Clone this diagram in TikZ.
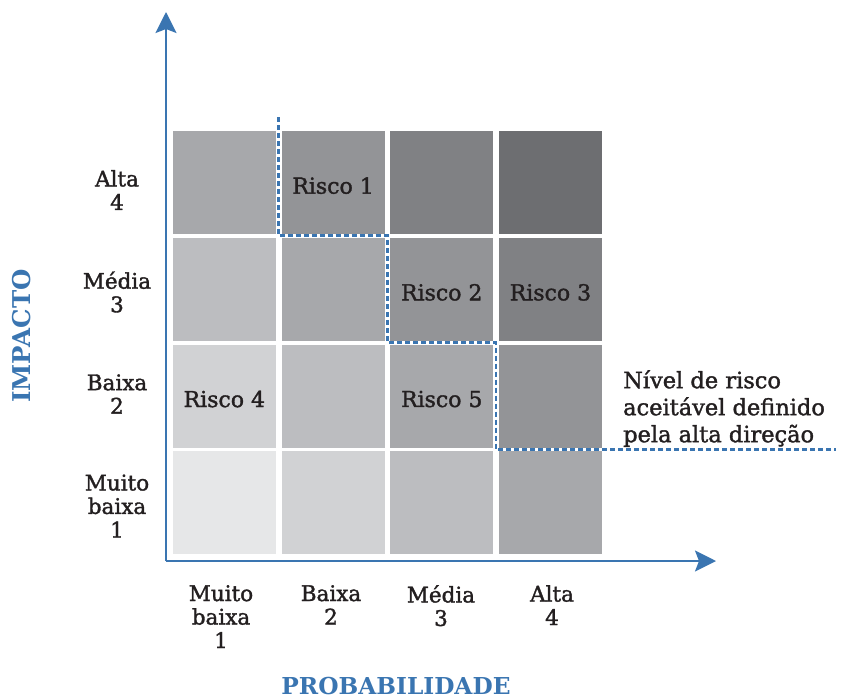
\documentclass[tikz,border=0pt]{standalone}
\usepackage{fontspec}
\setmainfont{DejaVu Serif}
\newfontfamily\lblfont{DejaVu Serif}[FakeBold=1.6]
\usetikzlibrary{arrows.meta}
\definecolor{axisblue}{RGB}{58,117,177}
\definecolor{txt}{HTML}{231F20}
\definecolor{lev1}{HTML}{E6E7E8}
\definecolor{lev2}{HTML}{D1D2D4}
\definecolor{lev3}{HTML}{BCBDC0}
\definecolor{lev4}{HTML}{A7A8AB}
\definecolor{lev5}{HTML}{939497}
\definecolor{lev6}{HTML}{808184}
\definecolor{lev7}{HTML}{6D6E71}
\begin{document}
\begin{tikzpicture}[x=1pt,y=-1pt,
  cell/.style={rectangle, inner sep=0pt, minimum width=103pt, minimum height=103pt},
  tick/.style={align=center, text=txt, inner sep=0pt, font=\lblfont\fontsize{21.5}{23.5}\selectfont},
  risk/.style={text=txt, inner sep=0pt, font=\lblfont\fontsize{22}{24}\selectfont},
  axtitle/.style={text=axisblue, inner sep=0pt, font=\bfseries\fontsize{24.5}{28}\selectfont},
  axisline/.style={draw=axisblue, line width=2.2pt, -{Stealth[length=21pt,width=21pt,inset=4pt]}},
  limit/.style={draw=axisblue, line width=2.8pt, dash pattern=on 5pt off 3pt}]
\useasboundingbox (0,0) rectangle (842,699);
% cells
\foreach \c in {1,...,4} {
  \foreach \r in {1,...,4} {
    \pgfmathtruncatemacro\lv{\c+\r-1}
    \node[cell, fill=lev\lv] (cell-\c-\r) at ({224.35+(\c-1)*108.7},{502.75-(\r-1)*106.7}) {};
  }
}
% axes
\coordinate (origin) at (166,561);
\coordinate (ytip) at (166,12);
\coordinate (xtip) at (716,561);
\draw[axisline] (origin) -- (ytip);
\draw[axisline] (origin) -- (xtip);
% acceptable risk limit
\coordinate (d0) at (278.5,117);
\coordinate (d1) at (278.5,235.8);
\coordinate (d2) at (387.2,235.8);
\coordinate (d3) at (387.2,342.5);
\coordinate (d4) at (496,342.5);
\coordinate (d5) at (496,449.2);
\coordinate (d6) at (836,449.2);
\draw[limit] (d0) -- (d1) -- (d2) -- (d3) -- (d4) -- (d5) -- (d6);
% risk labels
\node[risk] (r1) at ([yshift=-3pt]cell-2-4) {Risco 1};
\node[risk] (r2) at ([yshift=-3pt]cell-3-3) {Risco 2};
\node[risk] (r3) at ([yshift=-3pt]cell-4-3) {Risco 3};
\node[risk] (r4) at ([yshift=-3pt]cell-1-2) {Risco 4};
\node[risk] (r5) at ([yshift=-3pt]cell-3-2) {Risco 5};
% y tick labels
\node[tick] (y4) at (117,190) {Alta\\4};
\node[tick] (y3) at (117,292) {Média\\3};
\node[tick] (y2) at (117,394) {Baixa\\2};
\node[tick] (y1) at (117,506) {Muito\\baixa\\1};
% x tick labels
\node[tick, anchor=north] (x1) at (221,585) {Muito\\baixa\\1};
\node[tick, anchor=north] (x2) at (331,585) {Baixa\\2};
\node[tick, anchor=north] (x3) at (441,585) {Média\\3};
\node[tick, anchor=north] (x4) at (552,585) {Alta\\4};
% axis titles
\node[axtitle, rotate=90] (impacto) at (22,336) {IMPACTO};
\node[axtitle, anchor=base, font=\bfseries\fontsize{23.3}{28}\selectfont] (prob) at (396,694) {PROBABILIDADE};
% note
\node[anchor=north west, align=left, text=txt, inner sep=0pt, font=\lblfont\fontsize{22.5}{27}\selectfont] (note) at (623,370) {Nível de risco\\aceitável definido\\pela alta direção};
\end{tikzpicture}
\end{document}
